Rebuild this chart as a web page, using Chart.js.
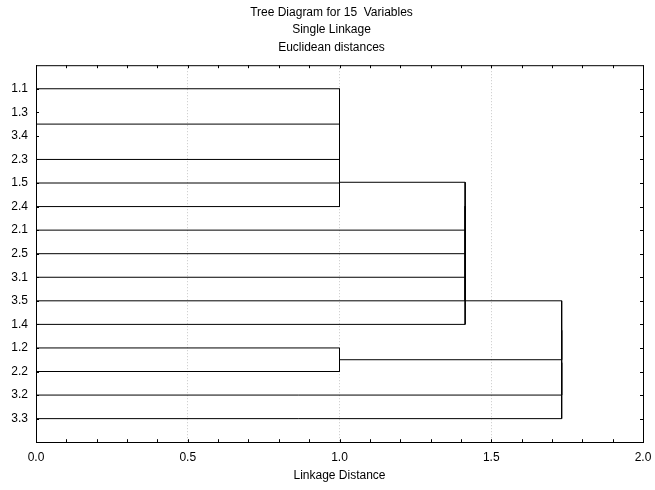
<!DOCTYPE html>
<html>
<head>
<meta charset="utf-8">
<script src="https://cdn.jsdelivr.net/npm/chart.js@4/dist/chart.umd.min.js"></script>
<style>
  html, body { margin: 0; padding: 0; background: #fff; }
  #wrap { width: 655px; height: 490px; }
</style>
</head>
<body>
<div id="wrap"><canvas id="canvas" width="655" height="490"></canvas></div>
<script>
// leaves, top to bottom
var leafLabels = ['1.1', '1.3', '3.4', '2.3', '1.5', '2.4', '2.1', '2.5', '3.1', '3.5', '1.4', '1.2', '2.2', '3.2', '3.3'];

// merge k joins mergeLeft[k] and mergeRight[k] into node 15 + k
var mergeLeft  = [1, 0,  16, 17, 18, 11, 19, 21, 22, 23, 24, 25, 26, 27];
var mergeRight = [2, 15, 3,  4,  5,  12, 6,  7,  8,  9,  10, 20, 13, 14];
var mergeDist  = [0, 1.0, 1.0, 1.0, 1.0, 1.0, 1.414, 1.414, 1.414, 1.414, 1.414, 1.732, 1.732, 1.732];

var xTicks = [0, 0.5, 1.0, 1.5, 2.0];

// node positions: leaves sit on rows 1..15, a merge sits midway between its two parts
var nodeY = [];
var nodeH = [];
for (var i = 0; i < leafLabels.length; i++) {
    nodeY.push(i + 1);
    nodeH.push(0);
}

var datasets = [];
function addSeg(x1, y1, x2, y2) {
    if (x1 == x2 && y1 == y2) return;
    datasets.push({
        data: [{x: x1, y: y1}, {x: x2, y: y2}],
        showLine: true,
        borderColor: '#000',
        borderWidth: 1,
        pointRadius: 0,
        pointHoverRadius: 0
    });
}

for (var k = 0; k < mergeDist.length; k++) {
    var a = mergeLeft[k], b = mergeRight[k], d = mergeDist[k];
    addSeg(nodeH[a], nodeY[a], d, nodeY[a]);
    addSeg(nodeH[b], nodeY[b], d, nodeY[b]);
    addSeg(d, nodeY[a], d, nodeY[b]);
    nodeY.push((nodeY[a] + nodeY[b]) / 2);
    nodeH.push(d);
}

function isMajor(v) {
    return Math.abs(v * 2 - Math.round(v * 2)) < 1e-6;
}

// frame on top/right and small inward ticks on all four sides
var framePlugin = {
    id: 'frame',
    afterLayout: function (chart) {
        // y scale is squeezed, let its labels spill to the left
        chart.scales.y.left = 0;
    },
    afterDraw: function (chart) {
        var c = chart.ctx, a = chart.chartArea;
        var xs = chart.scales.x, ys = chart.scales.y;
        c.save();
        c.strokeStyle = '#000';
        c.lineWidth = 1;
        c.beginPath();
        c.moveTo(a.left, a.top + 0.5);
        c.lineTo(a.right + 0.5, a.top + 0.5);
        c.lineTo(a.right + 0.5, a.bottom);
        xs.ticks.forEach(function (t) {
            var px = Math.round(xs.getPixelForValue(t.value)) + 0.5;
            c.moveTo(px, a.top);
            c.lineTo(px, a.top + 3);
            c.moveTo(px, a.bottom);
            c.lineTo(px, a.bottom - 3);
        });
        for (var r = 1; r <= leafLabels.length; r++) {
            var py = Math.round(ys.getPixelForValue(r)) + 0.5;
            c.moveTo(a.left, py);
            c.lineTo(a.left + 3, py);
            c.moveTo(a.right, py);
            c.lineTo(a.right - 3, py);
        }
        c.stroke();
        c.restore();
    }
};

Chart.defaults.font.family = '"Liberation Sans", Arial, sans-serif';
Chart.defaults.font.size = 12;
Chart.defaults.color = '#000';

var config = {
    type: 'scatter',
    data: { datasets: datasets },
    options: {
        responsive: false,
        animation: false,
        layout: { padding: { left: 20, right: 12, top: 0, bottom: 0 } },
        plugins: {
            legend: { display: false },
            tooltip: { enabled: false },
            title: {
                display: true,
                text: ['Tree Diagram for 15  Variables', 'Single Linkage', 'Euclidean distances'],
                font: { size: 12, weight: 'normal', lineHeight: 1.45 },
                padding: { top: 4, bottom: 9 }
            }
        },
        scales: {
            x: {
                type: 'linear',
                min: 0,
                max: 2,
                afterFit: function (scale) {
                    scale.paddingLeft = 0;
                    scale.paddingRight = 0;
                },
                ticks: {
                    stepSize: 0.1,
                    autoSkip: false,
                    maxRotation: 0,
                    padding: 8,
                    callback: function (v) {
                        return isMajor(v) && xTicks.indexOf(Math.round(v * 2) / 2) >= 0 ? v.toFixed(1) : '';
                    }
                },
                grid: {
                    drawTicks: false,
                    lineWidth: 1,
                    color: function (ctx) {
                        var v = ctx.tick ? ctx.tick.value : 0;
                        if (!isMajor(v) || v < 0.01 || v > 1.99) return 'rgba(0,0,0,0)';
                        return '#c8c8c8';
                    }
                },
                border: { display: true, color: '#000', width: 1, dash: [1, 2] },
                title: {
                    display: true,
                    text: 'Linkage Distance',
                    font: { size: 12 },
                    padding: { top: -4, bottom: 7 }
                }
            },
            y: {
                type: 'linear',
                min: 0,
                max: 16,
                reverse: true,
                afterFit: function (scale) { scale.width = 16; },
                ticks: {
                    stepSize: 1,
                    autoSkip: false,
                    padding: 8,
                    callback: function (v) {
                        return leafLabels[v - 1] || '';
                    }
                },
                grid: { display: false, drawTicks: false },
                border: { display: true, color: '#000', width: 1 }
            }
        }
    },
    plugins: [framePlugin]
};

var ctx = document.getElementById('canvas').getContext('2d');
var tree_chart = new Chart(ctx, config);
</script>
</body>
</html>
